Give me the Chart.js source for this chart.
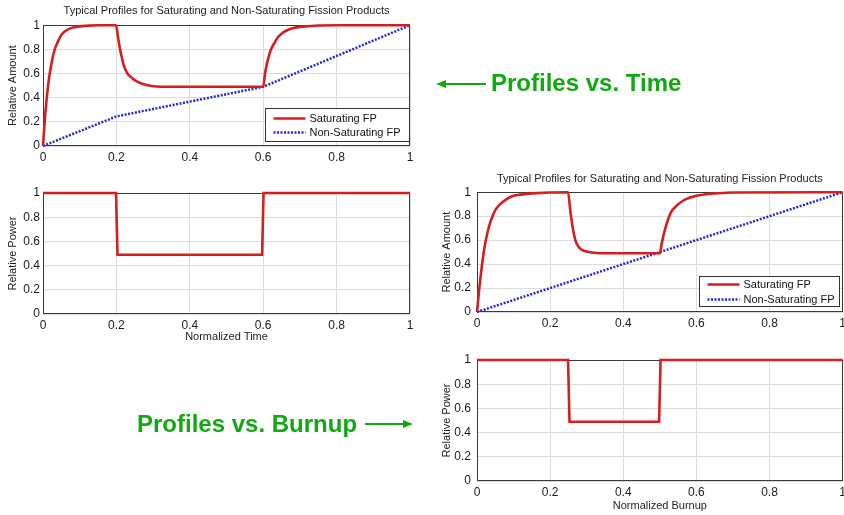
<!DOCTYPE html>
<html>
<head>
<meta charset="utf-8">
<script src="https://cdn.jsdelivr.net/npm/chart.js@4.4.1/dist/chart.umd.min.js"></script>
<style>
  html, body { margin: 0; padding: 0; background: #fff; overflow: hidden; }
  #stage { position: relative; width: 844px; height: 515px; overflow: hidden; font-family: 'Liberation Sans', Arial, sans-serif; }
  #stage canvas { position: absolute; }
  .note { position: absolute; color: #12a812; font-weight: bold; font-size: 24px; line-height: 24px; white-space: nowrap; }
  #arrows { position: absolute; left: 0; top: 0; }
</style>
</head>
<body>
<div id="stage">
  <canvas id="timeAmount" width="420" height="165" style="left:0;top:0"></canvas>
  <canvas id="timePower" width="420" height="175" style="left:0;top:175px"></canvas>
  <canvas id="burnupAmount" width="420" height="165" style="left:430px;top:165px"></canvas>
  <canvas id="burnupPower" width="420" height="170" style="left:430px;top:345px"></canvas>
  <svg id="arrows" width="844" height="515">
    <line x1="444" y1="84" x2="486" y2="84" stroke="#12a812" stroke-width="2"/>
    <polygon points="436,84 446,80 446,88" fill="#12a812"/>
    <line x1="365" y1="424" x2="405" y2="424" stroke="#12a812" stroke-width="2"/>
    <polygon points="413,424 403,420 403,428" fill="#12a812"/>
  </svg>
  <div class="note" style="left:491px;top:71px">Profiles vs. Time</div>
  <div class="note" style="left:137px;top:412px">Profiles vs. Burnup</div>
</div>
<script>
// values
const timeSatX = [0, 0.005, 0.01, 0.015, 0.02, 0.03, 0.04, 0.05, 0.06, 0.08, 0.1, 0.12, 0.15, 0.199,
  0.205, 0.21, 0.215, 0.22, 0.23, 0.24, 0.25, 0.27, 0.3, 0.35, 0.4, 0.6,
  0.605, 0.61, 0.615, 0.62, 0.63, 0.64, 0.65, 0.66, 0.68, 0.7, 0.75, 0.8, 1];
const timeSatY = [0, 0.22, 0.39, 0.53, 0.63, 0.78, 0.86, 0.92, 0.95, 0.98, 0.99, 0.995, 1, 1,
  0.89, 0.8, 0.73, 0.67, 0.6, 0.57, 0.545, 0.515, 0.495, 0.49, 0.49, 0.49,
  0.6, 0.68, 0.74, 0.79, 0.85, 0.9, 0.93, 0.95, 0.975, 0.985, 0.997, 1, 1];
const timeNonSatX = [0, 0.2, 0.6, 1];
const timeNonSatY = [0, 0.245, 0.49, 1];
const timePowerX = [0, 0.199, 0.203, 0.597, 0.601, 1];
const timePowerY = [1, 1, 0.49, 0.49, 1, 1];

const burnSatX = [0, 0.005, 0.01, 0.02, 0.03, 0.04, 0.05, 0.06, 0.08, 0.1, 0.12, 0.15, 0.249,
  0.255, 0.26, 0.265, 0.27, 0.28, 0.29, 0.3, 0.32, 0.35, 0.5,
  0.505, 0.51, 0.52, 0.53, 0.54, 0.55, 0.57, 0.6, 0.63, 0.65, 0.7, 1];
const burnSatY = [0, 0.16, 0.3, 0.53, 0.68, 0.78, 0.85, 0.89, 0.94, 0.97, 0.98, 0.99, 1,
  0.85, 0.74, 0.65, 0.59, 0.535, 0.515, 0.505, 0.495, 0.49, 0.49,
  0.57, 0.64, 0.75, 0.83, 0.87, 0.9, 0.94, 0.97, 0.985, 0.99, 0.998, 1];
const burnNonSatX = [0, 1];
const burnNonSatY = [0, 1];
const burnPowerX = [0, 0.249, 0.253, 0.498, 0.502, 1];
const burnPowerY = [1, 1, 0.49, 0.49, 1, 1];

const tickValues = [0, 0.2, 0.4, 0.6, 0.8, 1];
const chartTitle = 'Typical Profiles for Saturating and Non-Saturating Fission Products';

const RED = 'rgb(214,30,30)';
const BLUE = 'rgb(38,38,205)';
const FONT = "'Liberation Sans', Arial, sans-serif";

const pts = (xs, ys) => xs.map((x, i) => ({ x: x, y: ys[i] }));

// MATLAB style box round the plot area
const boxPlugin = {
  id: 'plotBox',
  beforeDatasetsDraw(chart) {
    const a = chart.chartArea, ctx = chart.ctx;
    ctx.save();
    ctx.strokeStyle = '#3a3a3a';
    ctx.lineWidth = 1;
    ctx.strokeRect(Math.round(a.left) + 0.5, Math.round(a.top) + 0.5,
      Math.round(a.right) - Math.round(a.left) - 1, Math.round(a.bottom) - Math.round(a.top) - 1);
    ctx.restore();
  }
};

// legend box sitting in the lower right corner of the plot
const insetLegend = {
  id: 'insetLegend',
  afterDatasetsDraw(chart, args, opts) {
    if (!opts || !opts.width) return;
    const a = chart.chartArea, ctx = chart.ctx;
    const x = Math.round(a.right - opts.right - opts.width) + 0.5;
    const y = Math.round(a.bottom - opts.bottom - opts.height) + 0.5;
    ctx.save();
    ctx.fillStyle = '#fff';
    ctx.fillRect(x, y, opts.width, opts.height);
    ctx.strokeStyle = '#333';
    ctx.lineWidth = 1;
    ctx.strokeRect(x, y, opts.width, opts.height);
    ctx.font = '11px ' + FONT;
    ctx.textBaseline = 'middle';
    chart.data.datasets.forEach((ds, i) => {
      const cy = y + opts.rowTop + i * opts.rowGap;
      ctx.strokeStyle = ds.borderColor;
      ctx.lineWidth = ds.borderWidth;
      ctx.setLineDash(ds.borderDash || []);
      ctx.beginPath();
      ctx.moveTo(x + 8, cy);
      ctx.lineTo(x + 40, cy);
      ctx.stroke();
      ctx.setLineDash([]);
      ctx.fillStyle = '#111';
      ctx.fillText(ds.label, x + 44, cy);
    });
    ctx.restore();
  }
};

function makeScales(o) {
  return {
    x: {
      type: 'linear', min: 0, max: 1,
      afterBuildTicks: s => { s.ticks = tickValues.map(v => ({ value: v })); },
      ticks: { callback: v => String(+v.toFixed(1)), font: { family: FONT, size: 12 }, color: '#1a1a1a', padding: o.xTickPad, maxRotation: 0, autoSkip: false },
      grid: { color: '#dcdcdc', drawTicks: false },
      border: { display: false },
      title: o.xTitle
        ? { display: true, text: o.xTitle, font: { family: FONT, size: 11 }, color: '#222', padding: { top: 0, bottom: o.xTitlePad } }
        : { display: false },
      afterFit: s => { s.height = o.xHeight; }
    },
    y: {
      type: 'linear', min: 0, max: 1,
      afterBuildTicks: s => { s.ticks = tickValues.map(v => ({ value: v })); },
      ticks: { callback: v => String(+v.toFixed(1)), font: { family: FONT, size: 12 }, color: '#1a1a1a', padding: o.yTickPad },
      grid: { color: '#dcdcdc', drawTicks: false },
      border: { display: false },
      title: { display: true, text: o.yTitle, font: { family: FONT, size: 11 }, color: '#222', padding: { top: o.yTitlePad, bottom: 0 } },
      afterFit: s => { s.width = o.yWidth; }
    }
  };
}

function satSet(xs, ys) {
  return { label: 'Saturating FP', data: pts(xs, ys), borderColor: RED, borderWidth: 2.6, cubicInterpolationMode: 'monotone', clip: 4 };
}
function nonSatSet(xs, ys) {
  return { label: 'Non-Saturating FP', data: pts(xs, ys), borderColor: BLUE, borderWidth: 2.5, borderDash: [2, 1.5], clip: 4 };
}
function powerSet(xs, ys) {
  return { label: 'Relative Power', data: pts(xs, ys), borderColor: RED, borderWidth: 2.6, clip: 4 };
}

function makeChart(id, datasets, o) {
  new Chart(document.getElementById(id), {
    type: 'line',
    data: { datasets: datasets },
    plugins: [boxPlugin, insetLegend],
    options: {
      responsive: false,
      animation: false,
      events: [],
      layout: { padding: { top: o.padTop, right: o.padRight, bottom: 0, left: 0 } },
      elements: { point: { radius: 0 }, line: { tension: 0, fill: false } },
      scales: makeScales(o),
      plugins: {
        legend: { display: false },
        tooltip: { enabled: false },
        title: o.title
          ? { display: true, text: o.title, fullSize: false, color: '#222', font: { family: FONT, size: 11, weight: 'normal' }, padding: o.titlePad }
          : { display: false },
        insetLegend: o.legend || {}
      }
    }
  });
}

makeChart('timeAmount', [satSet(timeSatX, timeSatY), nonSatSet(timeNonSatX, timeNonSatY)], {
  title: chartTitle, titlePad: { top: 4, bottom: 8 }, padTop: 0, padRight: 10,
  yTitle: 'Relative Amount', yWidth: 43, yTickPad: 3, yTitlePad: 6,
  xHeight: 19, xTickPad: 4,
  legend: { width: 144, height: 33, right: 1, bottom: 5, rowTop: 10, rowGap: 14 }
});

makeChart('timePower', [powerSet(timePowerX, timePowerY)], {
  padTop: 18, padRight: 10,
  yTitle: 'Relative Power', yWidth: 43, yTickPad: 3, yTitlePad: 6,
  xHeight: 36, xTickPad: 4, xTitle: 'Normalized Time', xTitlePad: 6
});

makeChart('burnupAmount', [satSet(burnSatX, burnSatY), nonSatSet(burnNonSatX, burnNonSatY)], {
  title: chartTitle, titlePad: { top: 7, bottom: 7 }, padTop: 0, padRight: 0,
  yTitle: 'Relative Amount', yWidth: 47, yTickPad: 6, yTitlePad: 10,
  xHeight: 18, xTickPad: 4,
  legend: { width: 140, height: 30, right: 4, bottom: 6, rowTop: 8, rowGap: 15 }
});

makeChart('burnupPower', [powerSet(burnPowerX, burnPowerY)], {
  padTop: 15, padRight: 0,
  yTitle: 'Relative Power', yWidth: 47, yTickPad: 6, yTitlePad: 10,
  xHeight: 34, xTickPad: 4, xTitle: 'Normalized Burnup', xTitlePad: 2
});
</script>
</body>
</html>
